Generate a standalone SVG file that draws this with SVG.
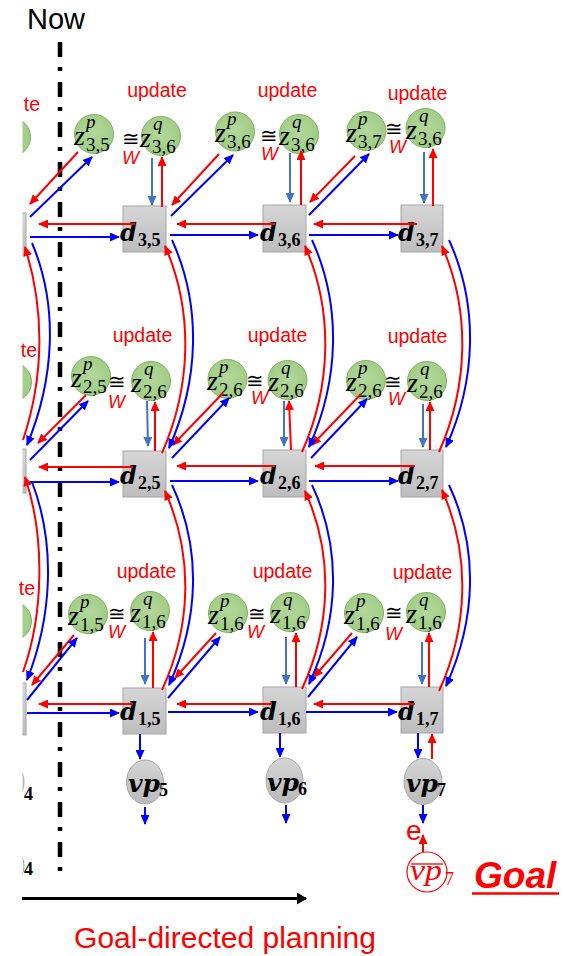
<svg xmlns="http://www.w3.org/2000/svg" width="566" height="956" viewBox="0 0 566 956">
<defs>
<style>
.r{stroke:#ff0000;stroke-width:2;fill:none;marker-end:url(#ar)}
.b{stroke:#0000ff;stroke-width:2;fill:none;marker-end:url(#ab)}
.sb{stroke:#4472c4;stroke-width:2;fill:none;marker-end:url(#asb)}
.box{fill:url(#gbox);stroke:#a6a6a6;stroke-width:1}
.zc{fill:url(#ggreen);stroke:#7db462;stroke-width:1}
.vpc{fill:url(#ggray);stroke:#a9a9a9;stroke-width:1}
.upd{font-family:"Liberation Sans",Arial,sans-serif;font-size:19.5px;fill:#ff0000;text-anchor:middle}
.w{font-family:"Liberation Sans",Arial,sans-serif;font-style:italic;font-size:18px;fill:#ff0000}
.cong{font-family:"DejaVu Serif",serif;font-size:21px;fill:#000}
.mz{font-family:"Liberation Serif",serif;font-style:italic;font-size:28px;fill:#000}
.sup{font-style:italic;font-size:19px}
.sub{font-style:normal;font-size:19px}
.dl{font-family:"DejaVu Serif",serif;font-weight:bold;font-style:italic;font-size:24px;fill:#000}
.ds{font-family:"Liberation Serif",serif;font-style:normal;font-size:18px}
</style>
<linearGradient id="gbox" x1="0" y1="0" x2="0" y2="1"><stop offset="0" stop-color="#d6d6d6"/><stop offset="1" stop-color="#bdbdbd"/></linearGradient>
<linearGradient id="ggray" x1="0" y1="0" x2="0" y2="1"><stop offset="0" stop-color="#d4d4d4"/><stop offset="1" stop-color="#bababa"/></linearGradient>
<radialGradient id="ggreen" cx="0.5" cy="0.45" r="0.6"><stop offset="0" stop-color="#b4d89c"/><stop offset="1" stop-color="#9cca80"/></radialGradient>
<marker id="ar" markerWidth="10" markerHeight="9" refX="9" refY="4.5" orient="auto" markerUnits="userSpaceOnUse"><path d="M0,0 L10,4.5 L0,9 z" fill="#ff0000"/></marker>
<marker id="ab" markerWidth="10" markerHeight="9" refX="9" refY="4.5" orient="auto" markerUnits="userSpaceOnUse"><path d="M0,0 L10,4.5 L0,9 z" fill="#0000ff"/></marker>
<marker id="asb" markerWidth="10" markerHeight="9" refX="9" refY="4.5" orient="auto" markerUnits="userSpaceOnUse"><path d="M0,0 L10,4.5 L0,9 z" fill="#4472c4"/></marker>
<marker id="ak" markerWidth="10" markerHeight="12" refX="9" refY="6" orient="auto" markerUnits="userSpaceOnUse"><path d="M0,0 L10,6 L0,12 z" fill="#000"/></marker>
<clipPath id="cl"><rect x="22.5" y="0" width="100" height="956"/></clipPath>
</defs>
<rect width="566" height="956" fill="#fff"/>

<!-- Now / timeline -->
<g id="now">
<text x="27" y="29" font-family="Liberation Sans, Arial, sans-serif" font-size="29" fill="#000">Now</text>
<line x1="60" y1="42" x2="60" y2="882" stroke="#000" stroke-width="4.5" stroke-dasharray="15 10 4 11"/>
</g>

<!-- partial nodes on left edge (cropped) -->
<g id="left-partial" clip-path="url(#cl)">
<rect x="-17" y="213" width="43" height="42" class="box"/>
<rect x="-17" y="449" width="43" height="44" class="box"/>
<rect x="-17" y="683" width="43" height="52" class="box"/>
<circle cx="11" cy="137" r="19.5" class="zc"/>
<circle cx="12" cy="382" r="19.5" class="zc"/>
<circle cx="12" cy="621" r="19.5" class="zc"/>
<ellipse cx="5" cy="782" rx="19" ry="22" class="vpc"/>
<circle cx="4" cy="866" r="20" fill="none" stroke="#999" stroke-width="1"/>
</g>
<g id="left-labels">
<text x="40" y="111" class="upd" style="text-anchor:end">te</text>
<text x="37" y="357" class="upd" style="text-anchor:end">te</text>
<text x="35" y="595" class="upd" style="text-anchor:end">te</text>
<text x="24" y="800" class="ds" style="font-weight:bold">4</text>
<text x="24" y="875" class="ds" style="font-weight:bold">4</text>
</g>

<!-- d boxes -->
<g id="d35"><rect x="123" y="206" width="43" height="46" class="box"/><text x="120" y="241" class="dl">d<tspan class="ds" x="138" y="246">3,5</tspan></text></g>
<g id="d36"><rect x="263" y="205" width="43" height="47" class="box"/><text x="260" y="241" class="dl">d<tspan class="ds" x="278" y="246">3,6</tspan></text></g>
<g id="d37"><rect x="401" y="205" width="42" height="47" class="box"/><text x="398" y="241" class="dl">d<tspan class="ds" x="416" y="246">3,7</tspan></text></g>
<g id="d25"><rect x="123" y="451" width="43" height="46" class="box"/><text x="120" y="484" class="dl">d<tspan class="ds" x="138" y="489">2,5</tspan></text></g>
<g id="d26"><rect x="263" y="450" width="43" height="47" class="box"/><text x="260" y="484" class="dl">d<tspan class="ds" x="278" y="489">2,6</tspan></text></g>
<g id="d27"><rect x="401" y="450" width="42" height="47" class="box"/><text x="398" y="484" class="dl">d<tspan class="ds" x="416" y="489">2,7</tspan></text></g>
<g id="d15"><rect x="123" y="688" width="43" height="46" class="box"/><text x="120" y="720" class="dl">d<tspan class="ds" x="138" y="725">1,5</tspan></text></g>
<g id="d16"><rect x="263" y="687" width="43" height="46" class="box"/><text x="260" y="720" class="dl">d<tspan class="ds" x="278" y="725">1,6</tspan></text></g>
<g id="d17"><rect x="401" y="687" width="42" height="46" class="box"/><text x="398" y="720" class="dl">d<tspan class="ds" x="416" y="725">1,7</tspan></text></g>

<!-- z circles row 3 -->
<g id="zp35"><circle cx="94" cy="134" r="19.5" class="zc"/><text x="74" y="145" class="mz">z<tspan class="sup" x="86" y="128">p</tspan><tspan class="sub" x="86" y="151">3,5</tspan></text></g>
<g id="zq35"><circle cx="161" cy="136" r="19.5" class="zc"/><text x="140" y="147" class="mz">z<tspan class="sup" x="153" y="130">q</tspan><tspan class="sub" x="152" y="153">3,6</tspan></text></g>
<g id="lab35"><text x="157" y="97" class="upd">update</text><text x="122" y="146" class="cong">≅</text><text x="122" y="164" class="w">W</text></g>
<g id="zp36"><circle cx="235" cy="131.5" r="19.5" class="zc"/><text x="215" y="142" class="mz">z<tspan class="sup" x="227" y="125">p</tspan><tspan class="sub" x="227" y="148">3,6</tspan></text></g>
<g id="zq36"><circle cx="299" cy="134" r="19.5" class="zc"/><text x="279" y="145" class="mz">z<tspan class="sup" x="292" y="128">q</tspan><tspan class="sub" x="291" y="151">3,6</tspan></text></g>
<g id="lab36"><text x="287.5" y="97" class="upd">update</text><text x="260" y="143" class="cong">≅</text><text x="261" y="160" class="w">W</text></g>
<g id="zp37"><circle cx="366.5" cy="131" r="19.5" class="zc"/><text x="346" y="142" class="mz">z<tspan class="sup" x="358" y="125">p</tspan><tspan class="sub" x="358" y="148">3,7</tspan></text></g>
<g id="zq37"><circle cx="425.5" cy="128" r="19.5" class="zc"/><text x="406" y="139" class="mz">z<tspan class="sup" x="419" y="122">q</tspan><tspan class="sub" x="418" y="145">3,6</tspan></text></g>
<g id="lab37"><text x="417.5" y="100" class="upd">update</text><text x="385" y="136" class="cong">≅</text><text x="389" y="153" class="w">W</text></g>

<!-- z circles row 2 -->
<g id="zp25"><circle cx="91" cy="376" r="19.5" class="zc"/><text x="71" y="387" class="mz">z<tspan class="sup" x="83" y="370">p</tspan><tspan class="sub" x="83" y="393">2,5</tspan></text></g>
<g id="zq25"><circle cx="151" cy="381" r="19.5" class="zc"/><text x="131" y="392" class="mz">z<tspan class="sup" x="144" y="375">q</tspan><tspan class="sub" x="143" y="398">2,6</tspan></text></g>
<g id="lab25"><text x="142.5" y="342" class="upd">update</text><text x="108" y="389" class="cong">≅</text><text x="108" y="408" class="w">W</text></g>
<g id="zp26"><circle cx="227.5" cy="379" r="19.5" class="zc"/><text x="207" y="390" class="mz">z<tspan class="sup" x="219" y="373">p</tspan><tspan class="sub" x="219" y="396">2,6</tspan></text></g>
<g id="zq26"><circle cx="287.5" cy="380" r="19.5" class="zc"/><text x="268" y="391" class="mz">z<tspan class="sup" x="281" y="374">q</tspan><tspan class="sub" x="280" y="397">2,6</tspan></text></g>
<g id="lab26"><text x="277.5" y="342" class="upd">update</text><text x="246" y="388" class="cong">≅</text><text x="251" y="404" class="w">W</text></g>
<g id="zp27"><circle cx="366" cy="380" r="19.5" class="zc"/><text x="346" y="391" class="mz">z<tspan class="sup" x="358" y="374">p</tspan><tspan class="sub" x="358" y="397">2,6</tspan></text></g>
<g id="zq27"><circle cx="427" cy="381" r="19.5" class="zc"/><text x="407" y="392" class="mz">z<tspan class="sup" x="420" y="375">q</tspan><tspan class="sub" x="419" y="398">2,6</tspan></text></g>
<g id="lab27"><text x="417.5" y="343" class="upd">update</text><text x="384" y="389" class="cong">≅</text><text x="388" y="405" class="w">W</text></g>

<!-- z circles row 1 -->
<g id="zp15"><circle cx="88" cy="614" r="19.5" class="zc"/><text x="68" y="625" class="mz">z<tspan class="sup" x="80" y="608">p</tspan><tspan class="sub" x="80" y="631">1,5</tspan></text></g>
<g id="zq15"><circle cx="150" cy="611" r="19.5" class="zc"/><text x="130" y="622" class="mz">z<tspan class="sup" x="143" y="605">q</tspan><tspan class="sub" x="142" y="628">1,6</tspan></text></g>
<g id="lab15"><text x="146.5" y="578" class="upd">update</text><text x="108" y="621" class="cong">≅</text><text x="108" y="638" class="w">W</text></g>
<g id="zp16"><circle cx="228" cy="613" r="19.5" class="zc"/><text x="208" y="624" class="mz">z<tspan class="sup" x="220" y="607">p</tspan><tspan class="sub" x="220" y="630">1,6</tspan></text></g>
<g id="zq16"><circle cx="290" cy="612" r="19.5" class="zc"/><text x="270" y="623" class="mz">z<tspan class="sup" x="283" y="606">q</tspan><tspan class="sub" x="282" y="629">1,6</tspan></text></g>
<g id="lab16"><text x="282.5" y="578" class="upd">update</text><text x="248" y="621" class="cong">≅</text><text x="247" y="638" class="w">W</text></g>
<g id="zp17"><circle cx="364" cy="613" r="19.5" class="zc"/><text x="344" y="624" class="mz">z<tspan class="sup" x="356" y="607">p</tspan><tspan class="sub" x="356" y="630">1,6</tspan></text></g>
<g id="zq17"><circle cx="426" cy="612" r="19.5" class="zc"/><text x="406" y="623" class="mz">z<tspan class="sup" x="419" y="606">q</tspan><tspan class="sub" x="418" y="629">1,6</tspan></text></g>
<g id="lab17"><text x="422.5" y="579" class="upd">update</text><text x="385" y="620" class="cong">≅</text><text x="385" y="640" class="w">W</text></g>

<!-- vp nodes -->
<g id="vp5"><ellipse cx="145" cy="782" rx="18.5" ry="22" class="vpc"/><text x="128" y="792" class="dl" style="font-size:25px">vp<tspan class="ds" x="159" y="796">5</tspan></text></g>
<g id="vp6"><ellipse cx="284.5" cy="780.5" rx="18.5" ry="22.5" class="vpc"/><text x="267" y="791" class="dl" style="font-size:25px">vp<tspan class="ds" x="298" y="795">6</tspan></text></g>
<g id="vp7"><ellipse cx="423" cy="781.5" rx="19" ry="23" class="vpc"/><text x="406" y="792" class="dl" style="font-size:25px">vp<tspan class="ds" x="437" y="796">7</tspan></text></g>

<!-- goal -->
<g id="goalvp">
<circle cx="427" cy="872" r="20" fill="#fff" stroke="#ff0000" stroke-width="1.2"/>
<text x="410" y="880" font-family="Liberation Serif, serif" font-style="italic" font-size="30" fill="#ff0000" textLength="32" lengthAdjust="spacingAndGlyphs">vp</text>
<text x="445" y="885" font-family="Liberation Serif, serif" font-size="18" fill="#ff0000">7</text>
<line x1="411" y1="864" x2="443" y2="864" stroke="#ff0000" stroke-width="1.3"/>
</g>
<g id="e-label"><text x="406" y="840" font-family="Liberation Sans, Arial, sans-serif" font-size="28" fill="#ff0000">e</text></g>
<g id="goal-label">
<text x="474" y="888" font-family="Liberation Sans, Arial, sans-serif" font-weight="bold" font-style="italic" font-size="37" fill="#ff0000">Goal</text>
<line x1="472" y1="893.5" x2="559" y2="893.5" stroke="#ff0000" stroke-width="2.5"/>
</g>
<g id="axis">
<line x1="22" y1="898.5" x2="306" y2="898.5" stroke="#000" stroke-width="3" marker-end="url(#ak)"/>
<text x="225" y="948" text-anchor="middle" font-family="Liberation Sans, Arial, sans-serif" font-size="30" fill="#ff0000">Goal-directed planning</text>
</g>

<!-- connectors -->
<g id="connectors">
<!-- horizontal row 3 -->
<path class="r" d="M135,224 L39,224"/>
<path class="r" d="M275,224 L177,224"/>
<path class="r" d="M417,224 L314,224"/>
<path class="b" d="M30,237 L119,237"/>
<path class="b" d="M170,235 L258,235"/>
<path class="b" d="M309,235 L398,235"/>
<!-- horizontal row 2 -->
<path class="r" d="M133,467 L39,467"/>
<path class="r" d="M275,466 L177,466"/>
<path class="r" d="M415,466 L315,466"/>
<path class="b" d="M30,482 L119,482"/>
<path class="b" d="M170,481 L258,481"/>
<path class="b" d="M309,481 L398,481"/>
<!-- horizontal row 1 -->
<path class="r" d="M133,704 L39,704"/>
<path class="r" d="M272,704 L177,704"/>
<path class="r" d="M415,704 L314,704"/>
<path class="b" d="M27,713 L119,713"/>
<path class="b" d="M168,712 L258,712"/>
<path class="b" d="M306,712 L397,712"/>
<!-- diagonals to z^p -->
<path class="r" d="M78,152 L30,204"/>
<path class="b" d="M30,217 L92,157"/>
<path class="r" d="M219,154 L172,205"/>
<path class="b" d="M171,216 L233,155"/>
<path class="r" d="M355,156 L310,202"/>
<path class="b" d="M309,215 L369,154"/>
<path class="r" d="M86,395 L38,443"/>
<path class="b" d="M30,460 L88,401"/>
<path class="r" d="M223,393 L173,445"/>
<path class="b" d="M172,458 L229,398"/>
<path class="r" d="M361,394 L312,445"/>
<path class="b" d="M311,458 L367,399"/>
<path class="r" d="M74,635 L32,685"/>
<path class="b" d="M27,700 L77,638"/>
<path class="r" d="M216,633 L175,678"/>
<path class="b" d="M168,698 L220,637"/>
<path class="r" d="M352,633 L314,677"/>
<path class="b" d="M308,697 L357,637"/>
<!-- z^q vertical -->
<path class="sb" d="M152,158 L152,205"/>
<path class="r" d="M162,207 L162,157"/>
<path class="sb" d="M290,153 L290,202"/>
<path class="r" d="M301,205 L301,151"/>
<path class="sb" d="M424,152 L424,203"/>
<path class="r" d="M433,206 L433,149"/>
<path class="sb" d="M147,401 L148,446"/>
<path class="r" d="M155,451 L155,402"/>
<path class="sb" d="M284,401 L284,446"/>
<path class="r" d="M291,450 L289,401"/>
<path class="sb" d="M423,404 L423,447"/>
<path class="r" d="M430,450 L430,402"/>
<path class="sb" d="M145,638 L145,684"/>
<path class="r" d="M153,688 L153,632"/>
<path class="sb" d="M286,637 L286,684"/>
<path class="r" d="M296,687 L296,633"/>
<path class="sb" d="M422,642 L422,684"/>
<path class="r" d="M429,687 L429,633"/>
<!-- curved vertical connectors -->
<path class="r" d="M23,440 C44,377 45,310 25,247"/>
<path class="b" d="M32,243 C59,307 54,380 27,445"/>
<path class="r" d="M23,672 C44,613 45,536 25,477"/>
<path class="b" d="M32,482 C56,545 52,617 27,680"/>
<path class="r" d="M162,453 C191,387 194,312 165,246"/>
<path class="b" d="M172,240 C202,306 199,381 169,448"/>
<path class="r" d="M302,452 C331,387 334,312 305,246"/>
<path class="b" d="M312,240 C342,306 339,381 309,447"/>
<path class="r" d="M439,452 C468,387 471,312 442,246"/>
<path class="b" d="M449,240 C479,306 476,381 446,447"/>
<path class="r" d="M162,690 C191,627 194,556 165,491"/>
<path class="b" d="M172,485 C202,549 199,620 169,685"/>
<path class="r" d="M302,689 C331,626 334,555 305,491"/>
<path class="b" d="M312,485 C342,549 339,620 309,684"/>
<path class="r" d="M439,691 C468,628 471,555 442,490"/>
<path class="b" d="M449,485 C479,549 476,620 446,686"/>
<!-- to vp -->
<path class="b" d="M140,734 L140,759"/>
<path class="b" d="M280,733 L280,757"/>
<path class="b" d="M418,733 L418,758"/>
<path class="r" d="M432,759 L432,734"/>
<path class="b" d="M145,807 L145,824"/>
<path class="b" d="M286,805 L286,823"/>
<path class="b" d="M423,805 L423,823"/>
<path class="r" d="M423,852 L423,835"/>
</g>
</svg>
